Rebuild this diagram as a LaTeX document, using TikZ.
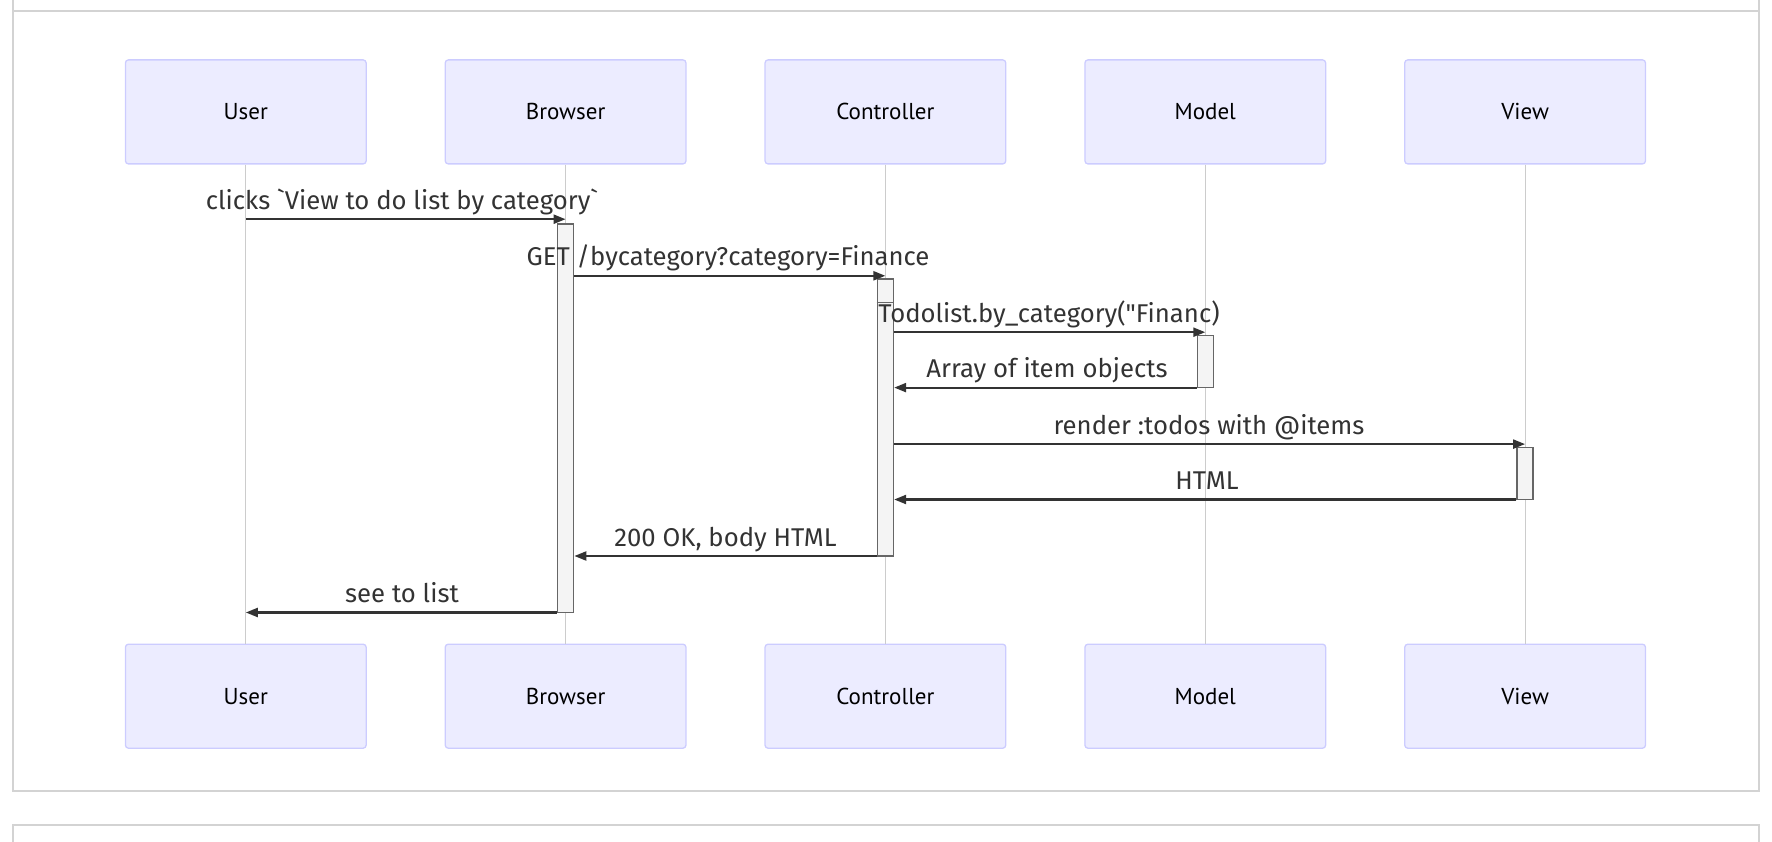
\documentclass[tikz,border=0pt]{standalone}
\usepackage{fontspec}
\setmainfont{PT Sans}
\newfontfamily\msgfont[Ligatures=TeXOff]{Fira Sans}
\usetikzlibrary{arrows.meta}
\definecolor{actfill}{HTML}{ECECFF}
\definecolor{actline}{HTML}{CCCCFF}
\definecolor{lifecol}{HTML}{CCCCCC}
\definecolor{barfill}{HTML}{F4F4F4}
\definecolor{barline}{HTML}{666666}
\definecolor{msgcol}{HTML}{333333}
\definecolor{framecol}{HTML}{D3D3D3}
\tikzset{
  actor/.style={draw=actline, fill=actfill, rounded corners=3pt, line width=1.3pt,
    minimum width=240.7pt, minimum height=104pt, inner sep=0pt,
    font=\fontsize{23}{27}\selectfont, text=black},
  lifeline/.style={draw=lifecol, line width=1.1pt},
  bar/.style={draw=barline, fill=barfill, line width=1.5pt, minimum width=16pt, inner sep=0pt},
  msg/.style={draw=msgcol, line width=2.2pt, -{Triangle[length=12pt,width=9pt]}},
  msgtext/.style={anchor=base, inner sep=0pt, text=msgcol, font=\msgfont\fontsize{25.7}{30}\selectfont},
  frameline/.style={draw=framecol, line width=2pt}
}
\begin{document}
\begin{tikzpicture}[x=1pt,y=-1pt]
\useasboundingbox (0,0) rectangle (1772,842);

% outer frames
\draw[frameline] (12.5,0) -- (12.5,790.7) -- (1759,790.7) -- (1759,0);
\draw[frameline] (12.5,10.7) -- (1759,10.7);
\draw[frameline] (12.5,842) -- (12.5,825) -- (1759,825) -- (1759,842);

% participants
\foreach \n/\t/\x in {u/User/245.8, b/Browser/565.6, c/Controller/885.4, m/Model/1205.3, v/View/1525.1}{
  \node[actor] (\n Top) at (\x,111.9) {\t};
  \node[actor] (\n Bot) at (\x,696.2) {\t};
  \draw[lifeline] (\n Top.south) -- (\n Bot.north);
}

% activation bars
\node[bar, minimum height=388.7pt] (actB) at (565.6,418.15) {};
\node[bar, minimum height=277pt] (actC) at (885.4,417.5) {};
\node[bar, minimum height=52pt] (actM) at (1205.3,361.6) {};
\node[bar, minimum height=52pt] (actV) at (1525.1,473.5) {};
\coordinate (ySplit) at (0,302.7);
\draw[barline, line width=1.5pt] (actC.west |- ySplit) -- (actC.east |- ySplit);

% message rows
\coordinate (y1) at (0,219.2);
\coordinate (y2) at (0,275.8);
\coordinate (y3) at (0,332.2);
\coordinate (y4) at (0,387.6);
\coordinate (y5) at (0,444.1);
\coordinate (y6) at (0,499.5);
\coordinate (y7) at (0,556.0);
\coordinate (y8) at (0,612.5);

% messages
\draw[msg] (uTop |- y1) -- (bTop |- y1);
\draw[msg] (actB.east |- y2) -- (cTop |- y2);
\draw[msg] (actC.east |- y3) -- (mTop |- y3);
\draw[msg] (actM.west |- y4) -- (actC.east |- y4);
\draw[msg] (actC.east |- y5) -- (vTop |- y5);
\draw[msg] (actV.west |- y6) -- (actC.east |- y6);
\draw[msg] (actC.west |- y7) -- (actB.east |- y7);
\draw[msg] (actB.west |- y8) -- (uTop |- y8);

% message texts
\node[msgtext] (t1) at (402,209.2) {clicks `View to do list by category`};
\node[msgtext] (t2) at (728,265.8) {GET /bycategory?category=Finance};
\node[msgtext] (t3) at (1049,322.2) {Todolist.by\_category("Financ)};
\node[msgtext] (t4) at (1047,377.6) {Array of item objects};
\node[msgtext] (t5) at (1209,434.1) {render :todos with @items};
\node[msgtext] (t6) at (1207,489.5) {HTML};
\node[msgtext] (t7) at (725.5,546.0) {200 OK, body HTML};
\node[msgtext] (t8) at (402,602.5) {see to list};
\end{tikzpicture}
\end{document}
